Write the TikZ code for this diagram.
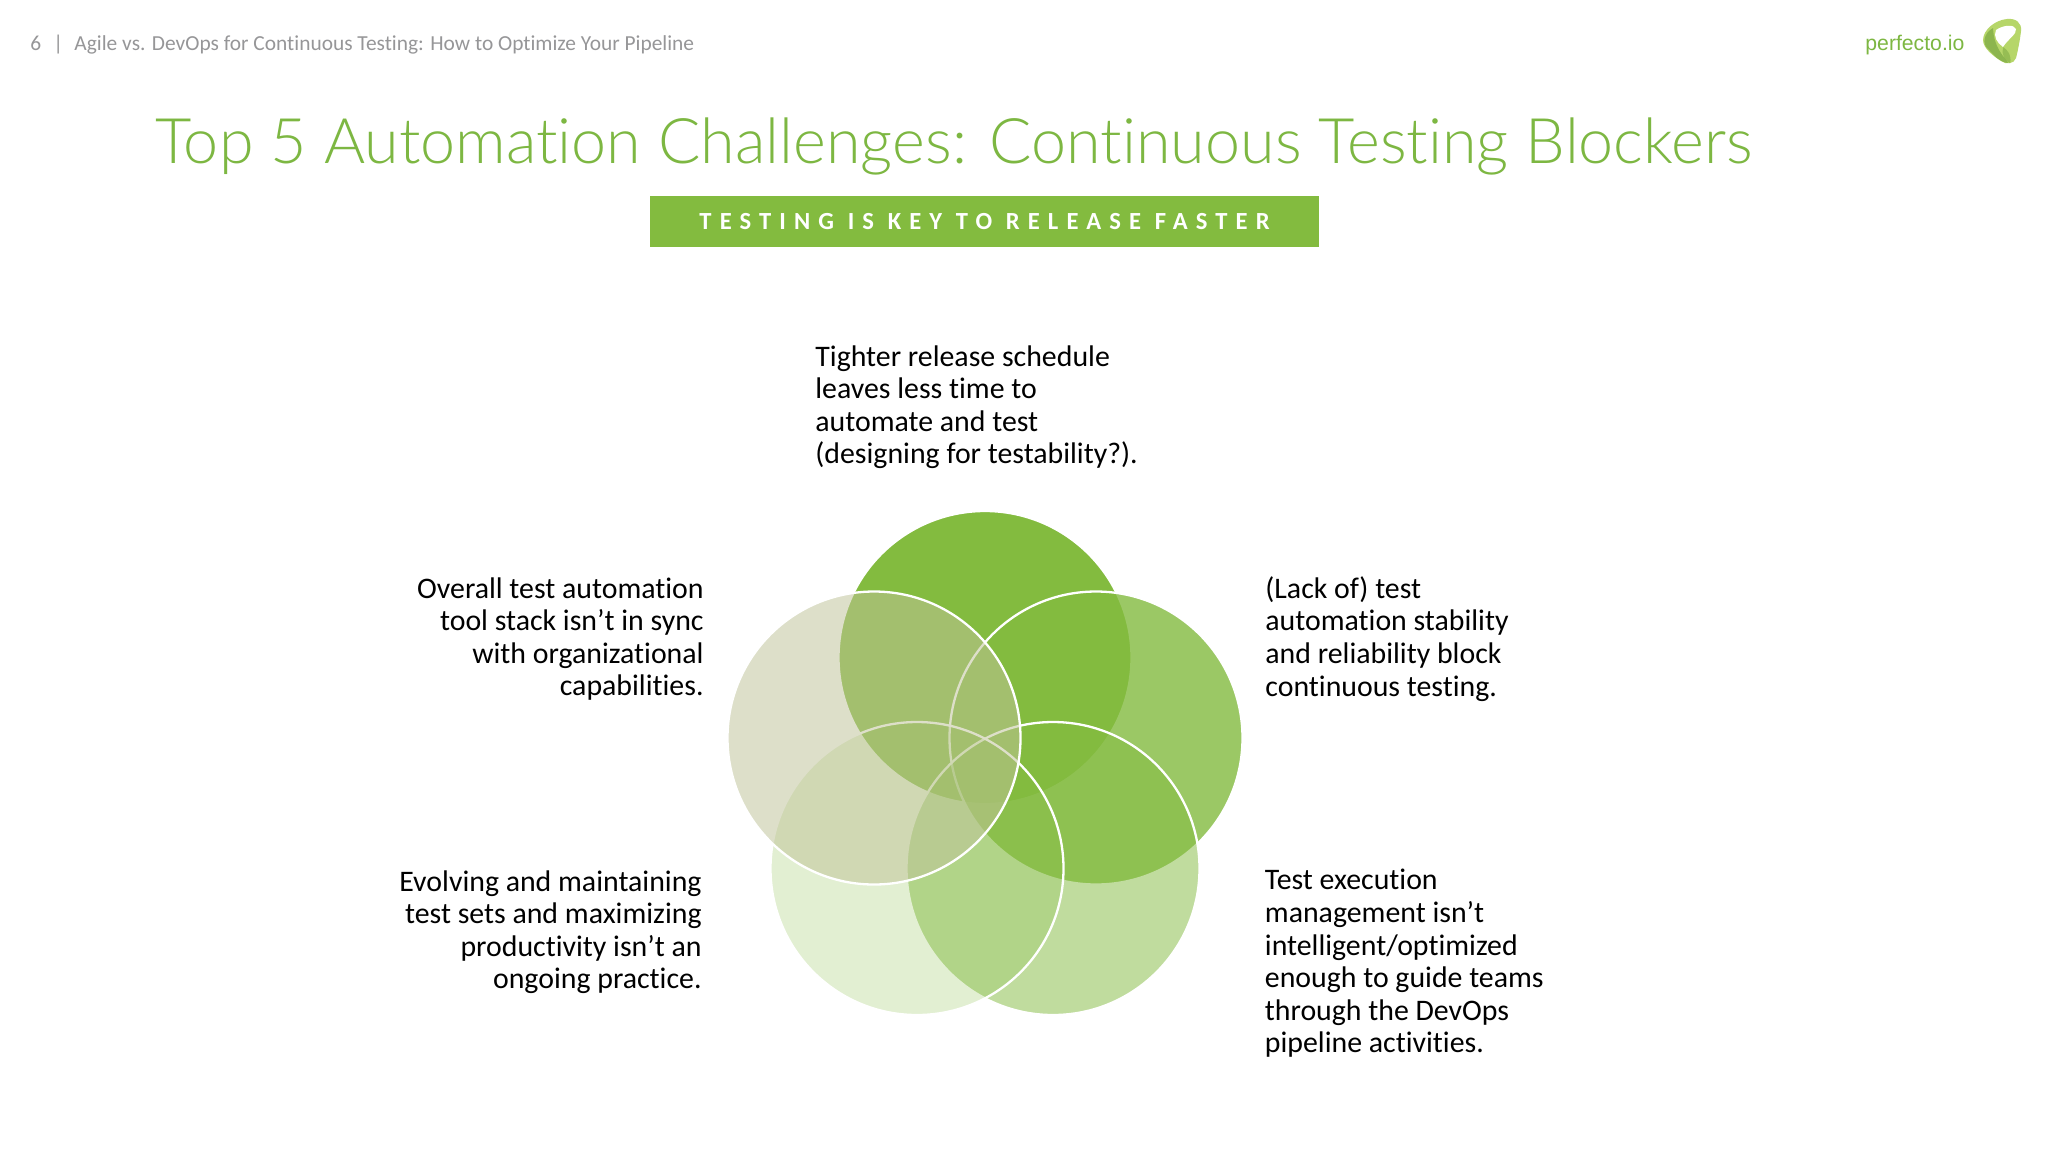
\documentclass[tikz,border=0pt]{standalone}
\usepackage{fontspec}
\setmainfont[Ligatures=NoCommon]{Carlito}
\newfontfamily\arialfont{Liberation Sans}
\newfontfamily\lightfont[Ligatures=NoCommon]{Lato Light}
\usetikzlibrary{calc}
\definecolor{pgreen}{RGB}{131,187,63}
\definecolor{ptitle}{RGB}{125,183,66}
\definecolor{pgray}{RGB}{150,150,152}
\definecolor{pleft}{RGB}{192,196,153}
\definecolor{pdark}{RGB}{112,160,60}
\definecolor{plight}{RGB}{182,214,105}
\tikzset{
  x=0.5pt,y=-0.5pt,
  body/.style={inner sep=0pt,font=\fontsize{14.92pt}{16.3pt}\selectfont,text=black},
  bodyL/.style={body,align=left,anchor=north west},
  bodyR/.style={body,align=right,anchor=north east},
  hdrtext/.style={anchor=base west,inner sep=0pt,text=pgray,font=\fontsize{10.7pt}{12pt}\selectfont},
}
\newcommand{\petaldraw}[4]{% x y colour opacity
  \fill[#3,fill opacity=#4] (#1,#2) circle[radius=146.5];
  \draw[white,line width=1.15pt] (#1,#2) circle[radius=146.5];
}
\begin{document}
\begin{tikzpicture}
\useasboundingbox (0,0) rectangle (2048,1152);
\fill[white] (0,0) rectangle (2048,1152);
\node[hdrtext] (pg) at (30,50) {6};
\node[hdrtext] (bar) at (53,50) {|};
\node[hdrtext] (hdr) at (74,50) {Agile vs. DevOps for Continuous Testing: How to Optimize Your Pipeline};
\node[anchor=base west,inner sep=0pt,text=ptitle,font=\arialfont\fontsize{10.6pt}{12pt}\selectfont] (brand) at (1865,50.7) {perfecto.io};
% logo
\fill[plight] (2007,19) .. controls (2016,18) and (2022,23) .. (2021,31)
  .. controls (2020,40) and (2018,50) .. (2016,58)
  .. controls (2014,64) and (2006,65) .. (2001,61)
  .. controls (1993,56) and (1983,48) .. (1983,40)
  .. controls (1983,30) and (1995,20) .. (2007,19) -- cycle;
\fill[pdark,fill opacity=.6] (1993,28) .. controls (1984,33) and (1981,44) .. (1989,50)
  .. controls (1995,56) and (1999,62) .. (2008,63)
  .. controls (2003,55) and (1994,48) .. (1993,28) -- cycle;
\fill[pdark,fill opacity=.45] (2003,47) .. controls (2008,50) and (2012,56) .. (2010,63)
  .. controls (2005,62) and (2001,54) .. (2003,47) -- cycle;
\fill[white] (1996,30) .. controls (2003,25) and (2014,24) .. (2016,29)
  .. controls (2017,34) and (2008,39) .. (2003,47)
  .. controls (1997,43) and (1993,36) .. (1996,30) -- cycle;
\node[anchor=base west,inner sep=0pt,text=ptitle,font=\lightfont\fontsize{31.4pt}{36pt}\selectfont] (title) at (155,163) {Top 5 Automation Challenges: Continuous Testing Blockers};
\node[anchor=center,fill=pgreen,minimum width=334.5pt,minimum height=25.5pt,inner sep=0pt,text=white,font=\bfseries\fontsize{12.3pt}{14pt}\selectfont\addfontfeature{LetterSpace=33}] (banner) at (984.5,221.5) {TESTING IS KEY TO RELEASE FASTER};
\node[bodyL] (t1) at (815,345) {Tighter release schedule\\leaves less time to\\automate and test\\(designing for testability?).};
\node[bodyL] (t2) at (1265,576) {(Lack of) test\\automation stability\\and reliability block\\continuous testing.};
\node[bodyL] (t3) at (1264.5,869) {Test execution\\management isn’t\\intelligent/optimized\\enough to guide teams\\through the DevOps\\pipeline activities.};
\node[bodyR] (t4) at (702,870) {Evolving and maintaining\\test sets and maximizing\\productivity isn’t an\\ongoing practice.};
\node[bodyR] (t5) at (704,577) {Overall test automation\\tool stack isn’t in sync\\with organizational\\capabilities.};
\petaldraw{985}{657.5}{pgreen}{1}
\petaldraw{1096}{738}{pgreen}{.8}
\petaldraw{1053}{868.5}{pgreen}{.5}
\petaldraw{917}{868.5}{pgreen}{.23}
\petaldraw{874}{738}{pleft}{.53}
\end{tikzpicture}
\end{document}
